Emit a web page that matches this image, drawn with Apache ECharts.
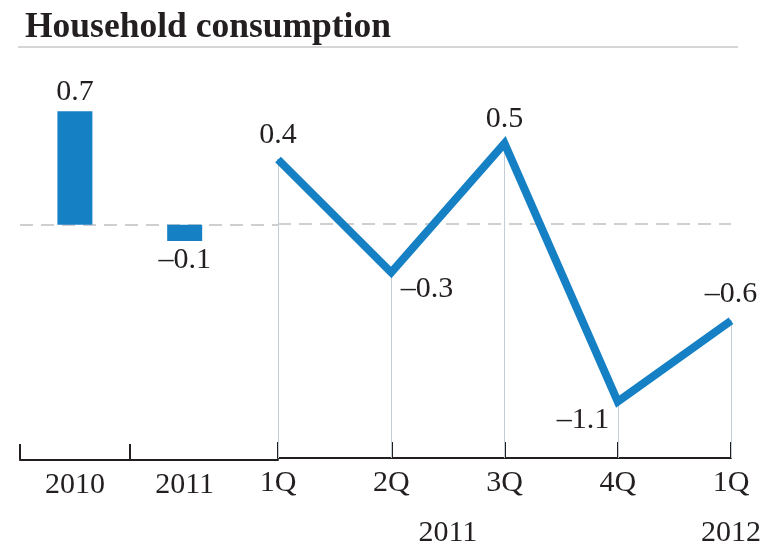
<!DOCTYPE html>
<html>
<head>
<meta charset="utf-8">
<script src="https://cdn.jsdelivr.net/npm/echarts@6/dist/echarts.min.js"></script>
<style>
  html, body { margin: 0; padding: 0; background: #ffffff; }
  #chart { width: 776px; height: 548px; }
</style>
</head>
<body>
<div id="chart"></div>
<script>
// Annual change, then quarterly change
const annualCategories = ['2010', '2011'];
const annualValues = [0.7, -0.1];
const quarterCategories = ['1Q', '2Q', '3Q', '4Q', '1Q'];
const quarterYears = ['2011', '2011', '2011', '2011', '2012'];
const quarterValues = [0.4, -0.3, 0.5, -1.1, -0.6];

const Y_MIN = -1.45;
const Y_MAX = 0.8;
const FONT = '"Liberation Serif", "DejaVu Serif", serif';
const BLUE = '#1680c4';
const INK = '#231f20';
const LABEL_SIZE = 30;

// en dash for negatives, one decimal
function fmt(v) {
  return (v < 0 ? '\u2013' : '') + Math.abs(v).toFixed(1);
}

// one label per year, centred under that year's quarters
const yearLabels = [];
const yearSpans = [];
quarterYears.forEach(function (y, i) {
  const k = yearLabels.indexOf(y);
  if (k < 0) { yearLabels.push(y); yearSpans.push([i, i]); }
  else { yearSpans[k][1] = i; }
});
const yearCentres = yearSpans.map(function (s) { return (s[0] + s[1]) / 2; });

// where each quarterly value label sits relative to its point
const quarterLabelStyle = [
  { position: 'top', distance: 9 },
  { position: 'right', distance: 9, offset: [0, 17] },
  { position: 'top', distance: 9 },
  { position: 'left', distance: 8, offset: [0, 19] },
  { position: 'top', distance: 11 }
];

const textBase = { color: INK, fontFamily: FONT, fontSize: LABEL_SIZE };
const zeroLine = {
  yAxis: 0,
  lineStyle: { color: '#cfcfcf', width: 2, type: [13, 8] }
};

const chart = echarts.init(document.getElementById('chart'), null, { renderer: 'canvas' });

chart.setOption({
  animation: false,
  backgroundColor: '#ffffff',
  title: {
    text: 'Household consumption',
    left: 20,
    top: 5,
    textStyle: { color: INK, fontFamily: FONT, fontSize: 35.5, fontWeight: 'bold' }
  },
  graphic: [{
    type: 'rect',
    left: 18,
    top: 46,
    shape: { width: 720, height: 2 },
    style: { fill: '#d6d6d6' },
    silent: true
  }],
  grid: [
    { left: 20, width: 258, top: 95, bottom: 88 },
    { left: 278, width: 453, top: 95, bottom: 88 }
  ],
  xAxis: [
    {
      gridIndex: 0,
      type: 'value',
      min: 0,
      max: 2.35,
      splitLine: { show: false },
      axisLine: { show: true, onZero: false, lineStyle: { color: INK, width: 2 } },
      axisTick: {
        show: true, inside: true, length: 16,
        customValues: annualCategories.map(function (_, i) { return i; }),
        lineStyle: { color: INK, width: 2 }
      },
      axisLabel: Object.assign({
        margin: 10,
        customValues: annualCategories.map(function (_, i) { return i + 0.5; }),
        formatter: function (v) { return annualCategories[Math.floor(v)]; }
      }, textBase)
    },
    {
      gridIndex: 1,
      type: 'category',
      data: quarterCategories,
      boundaryGap: false,
      axisLine: { show: true, onZero: false, lineStyle: { color: INK, width: 2 } },
      axisTick: { show: true, inside: true, length: 16, lineStyle: { color: INK, width: 2 } },
      axisLabel: Object.assign({ margin: 10, interval: 0 }, textBase)
    },
    {
      gridIndex: 1,
      type: 'value',
      position: 'bottom',
      offset: 50,
      min: 0,
      max: quarterCategories.length - 1,
      splitLine: { show: false },
      axisLine: { show: false, onZero: false },
      axisTick: { show: false },
      axisLabel: Object.assign({
        margin: 10,
        customValues: yearCentres,
        formatter: function (v) { return yearLabels[yearCentres.indexOf(v)]; }
      }, textBase)
    }
  ],
  yAxis: [
    { gridIndex: 0, type: 'value', min: Y_MIN, max: Y_MAX, show: false },
    { gridIndex: 1, type: 'value', min: Y_MIN, max: Y_MAX, show: false }
  ],
  series: [
    {
      type: 'bar',
      xAxisIndex: 0,
      yAxisIndex: 0,
      z: 3,
      barWidth: 35,
      itemStyle: { color: BLUE },
      data: annualValues.map(function (v, i) {
        return {
          value: [i + 0.5, v],
          label: { position: v >= 0 ? 'top' : 'bottom' }
        };
      }),
      label: Object.assign({
        show: true,
        distance: 4,
        formatter: function (p) { return fmt(p.value[1]); }
      }, textBase),
      markLine: {
        silent: true,
        symbol: 'none',
        z: 1,
        label: { show: false },
        data: [zeroLine]
      }
    },
    {
      type: 'line',
      xAxisIndex: 1,
      yAxisIndex: 1,
      z: 3,
      symbol: 'circle',
      symbolSize: 1,
      itemStyle: { color: BLUE },
      lineStyle: { color: BLUE, width: 8, cap: 'butt', join: 'miter' },
      data: quarterValues.map(function (v, i) {
        return { value: v, label: quarterLabelStyle[i] };
      }),
      label: Object.assign({
        show: true,
        formatter: function (p) { return fmt(p.value); }
      }, textBase),
      markLine: {
        silent: true,
        symbol: 'none',
        z: 1,
        label: { show: false },
        data: [zeroLine].concat(quarterValues.map(function (v, i) {
          return [
            { coord: [i, v], lineStyle: { color: '#c4cdd4', width: 1, type: 'solid' } },
            { coord: [i, Y_MIN] }
          ];
        }))
      }
    }
  ]
});
</script>
</body>
</html>
